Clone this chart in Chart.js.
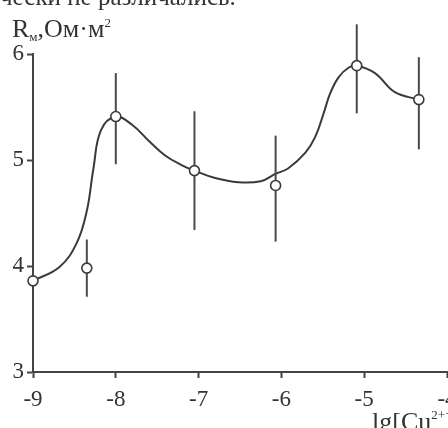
<!DOCTYPE html>
<html>
<head>
<meta charset="utf-8">
<script src="https://cdn.jsdelivr.net/npm/chart.js@4"></script>
<style>
  html, body { margin: 0; padding: 0; width: 448px; height: 428px; overflow: hidden; background: #fff; }
  #wrap { position: relative; width: 448px; height: 428px; overflow: hidden; }
  #c { position: absolute; left: 0; top: 0; }
  .t { position: absolute; font-family: "Liberation Serif", "DejaVu Serif", serif; color: #333; white-space: nowrap; }
  sub, sup { font-size: 50%; }
</style>
</head>
<body>
<div id="wrap">
  <canvas id="c" width="470" height="428" style="width:470px;height:428px"></canvas>
  <div class="t" style="left:0px; top:-16px; font-size:25px; line-height:25px;">чески не различались.</div>
  <div class="t" style="left:12px; top:8px; font-size:26px; line-height:30px;">R<sub style="vertical-align:-4px">м</sub>,Ом·м<sup style="vertical-align:10px">2</sup></div>
  <div class="t" style="left:372px; top:400px; font-size:26px; line-height:30px;">lg[Cu<sup style="vertical-align:11px">2+</sup>]</div>
</div>
<script>
// Measured points
const xVals   = [-9, -8.35, -8, -7.05, -6.07, -5.09, -4.34];
const yVals   = [3.86, 3.98, 5.41, 4.90, 4.76, 5.89, 5.57];
const errLow  = [null, 3.71, 4.96, 4.34, 4.23, 5.44, 5.10];
const errHigh = [null, 4.25, 5.82, 5.46, 5.23, 6.28, 5.97];
// Fitted curve
const curveX = [-9, -8.68, -8.47, -8.35, -8.27, -8.18, -8.0, -7.8, -7.6, -7.4, -7.2, -7.05, -6.8, -6.52, -6.25, -6.07, -5.92, -5.71, -5.59, -5.49, -5.41, -5.31, -5.19, -5.09, -4.87, -4.63, -4.34];
const curveY = [3.86, 3.99, 4.22, 4.52, 4.92, 5.28, 5.41, 5.33, 5.18, 5.04, 4.95, 4.90, 4.83, 4.79, 4.80, 4.87, 4.92, 5.07, 5.22, 5.44, 5.63, 5.78, 5.87, 5.89, 5.82, 5.64, 5.57];
// Axis ticks
const xTicks = [-9, -8, -7, -6, -5, -4];
const yTicks = [3, 4, 5, 6];

const ink = '#3a3a3a';

const errorBars = {
  id: 'errorBars',
  beforeDatasetDraw(chart, args) {
    if (args.index !== 0) return;
    const { ctx, scales: { x, y } } = chart;
    ctx.save();
    ctx.strokeStyle = '#4a4a4a';
    ctx.lineWidth = 2;
    xVals.forEach((xv, i) => {
      if (errLow[i] == null) return;
      const px = x.getPixelForValue(xv);
      ctx.beginPath();
      ctx.moveTo(px, y.getPixelForValue(errLow[i]));
      ctx.lineTo(px, y.getPixelForValue(errHigh[i]));
      ctx.stroke();
    });
    ctx.restore();
  }
};

new Chart(document.getElementById('c'), {
  type: 'scatter',
  data: {
    datasets: [
      {
        data: xVals.map((v, i) => ({ x: v, y: yVals[i] })),
        pointRadius: 5,
        pointBorderWidth: 1.6,
        pointBackgroundColor: '#fff',
        pointBorderColor: ink,
        showLine: false,
        clip: false
      },
      {
        data: curveX.map((v, i) => ({ x: v, y: curveY[i] })),
        showLine: true,
        borderColor: ink,
        borderWidth: 2,
        pointRadius: 0,
        tension: 0.4,
        clip: false
      }
    ]
  },
  options: {
    responsive: false,
    animation: false,
    layout: { padding: { top: 54, right: 23, left: 0, bottom: 0 } },
    plugins: { legend: { display: false }, tooltip: { enabled: false } },
    scales: {
      x: {
        type: 'linear',
        min: -9, max: -4,
        afterBuildTicks: (s) => { s.ticks = xTicks.map(v => ({ value: v })); },
        afterFit: (s) => { s.height = 56; },
        border: { color: '#444', width: 2 },
        grid: { drawOnChartArea: false, drawTicks: true, tickLength: 6, tickColor: '#444', tickWidth: 2 },
        ticks: {
          autoSkip: false, maxRotation: 0, padding: 8,
          color: '#333',
          font: { family: '"Liberation Serif", serif', size: 23 },
          callback: (v) => String(v)
        }
      },
      y: {
        type: 'linear',
        min: 3, max: 6,
        afterBuildTicks: (s) => { s.ticks = yTicks.map(v => ({ value: v })); },
        afterFit: (s) => { s.width = 33; },
        border: { color: '#444', width: 2 },
        grid: { drawOnChartArea: false, drawTicks: true, tickLength: 6, tickColor: '#444', tickWidth: 2 },
        ticks: {
          padding: 3,
          color: '#333',
          font: { family: '"Liberation Serif", serif', size: 23 },
          callback: (v) => String(v)
        }
      }
    }
  },
  plugins: [errorBars]
});
</script>
</body>
</html>
